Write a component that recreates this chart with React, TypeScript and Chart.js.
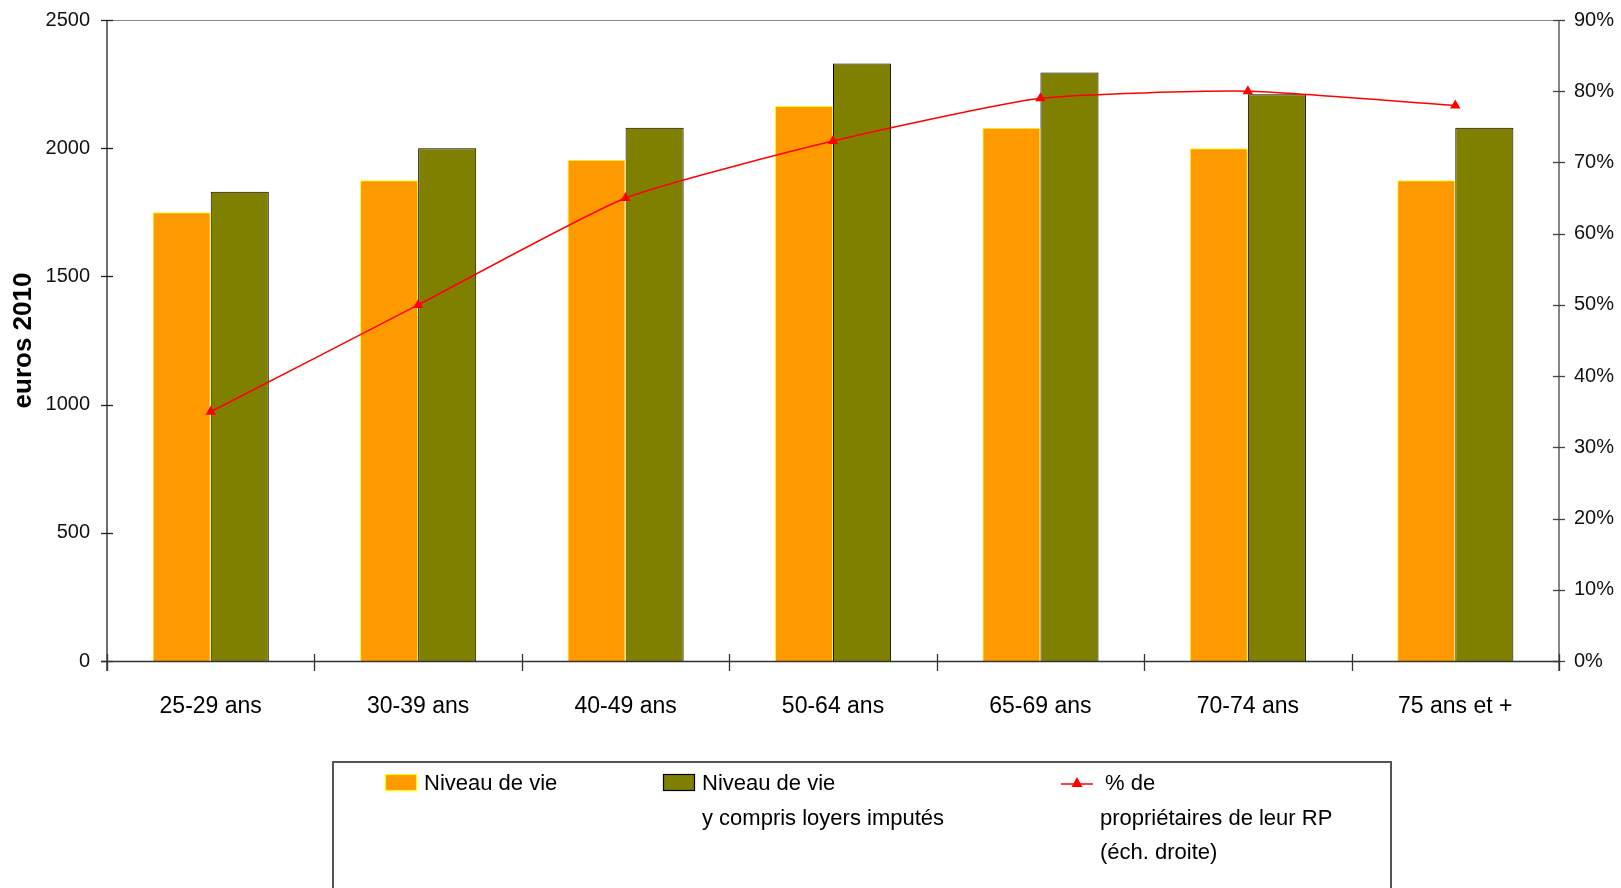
import React, { useEffect, useRef } from "react";
import { Chart, registerables } from "chart.js";

Chart.register(...registerables);

// ---------- Data ----------
const categories = ["25-29 ans", "30-39 ans", "40-49 ans", "50-64 ans", "65-69 ans", "70-74 ans", "75 ans et +"];
const niveauDeVie = [1750, 1875, 1955, 2165, 2080, 2000, 1875];
const niveauDeVieLoyers = [1830, 2000, 2080, 2330, 2295, 2210, 2080];
const pctProprietaires = [35, 50, 65, 73, 79, 80, 78];
const leftAxisTitle = "euros 2010";
const legendNiveau = ["Niveau de vie"];
const legendLoyers = ["Niveau de vie", "y compris loyers imputés"];
const legendPct = ["% de", "propriétaires de leur RP", "(éch. droite)"];

const FONT = "'Liberation Sans', Arial, sans-serif";
const ORANGE = "#FF9900";
const OLIVE = "#808000";
const RED = "#FF0000";

const decorPlugin = {
  id: "decor",
  afterDraw(chart: any) {
    const ctx = chart.ctx as CanvasRenderingContext2D;
    const ca = chart.chartArea;
    const x = chart.scales.x;
    const y = chart.scales.y;
    const y1 = chart.scales.y1;
    ctx.save();
    // top border
    ctx.strokeStyle = "#8a8a8a";
    ctx.lineWidth = 1;
    ctx.beginPath();
    ctx.moveTo(ca.left, ca.top + 0.5);
    ctx.lineTo(ca.right, ca.top + 0.5);
    ctx.stroke();
    // left axis
    ctx.strokeStyle = "#222";
    ctx.lineWidth = 1.3;
    ctx.beginPath();
    ctx.moveTo(ca.left, ca.top);
    ctx.lineTo(ca.left, ca.bottom + 10);
    ctx.stroke();
    y.ticks.forEach((t: any) => {
      const py = Math.round(y.getPixelForValue(t.value)) + 0.5;
      ctx.beginPath();
      ctx.moveTo(ca.left - 6, py);
      ctx.lineTo(ca.left + 6, py);
      ctx.stroke();
    });
    // right axis
    ctx.strokeStyle = "#444";
    ctx.beginPath();
    ctx.moveTo(ca.right, ca.top);
    ctx.lineTo(ca.right, ca.bottom + 10);
    ctx.stroke();
    y1.ticks.forEach((t: any) => {
      const py = Math.round(y1.getPixelForValue(t.value)) + 0.5;
      ctx.beginPath();
      ctx.moveTo(ca.right - 6, py);
      ctx.lineTo(ca.right + 6, py);
      ctx.stroke();
    });
    // bottom axis
    ctx.strokeStyle = "#333";
    ctx.beginPath();
    ctx.moveTo(ca.left - 6, ca.bottom + 0.5);
    ctx.lineTo(ca.right, ca.bottom + 0.5);
    ctx.stroke();
    for (let i = 0; i <= categories.length; i++) {
      const px = Math.round(x.getPixelForValue(i - 0.5)) + 0.5;
      ctx.beginPath();
      ctx.moveTo(px, ca.bottom - 7);
      ctx.lineTo(px, ca.bottom + 10);
      ctx.stroke();
    }

    // ---------- legend ----------
    const lx0 = 333, ly0 = 762, lx1 = 1391;
    ctx.strokeStyle = "#555";
    ctx.lineWidth = 2;
    ctx.beginPath();
    ctx.moveTo(lx0, 900);
    ctx.lineTo(lx0, ly0);
    ctx.lineTo(lx1, ly0);
    ctx.lineTo(lx1, 900);
    ctx.stroke();

    ctx.font = `22px ${FONT}`;
    ctx.fillStyle = "#000";
    ctx.textBaseline = "middle";
    ctx.textAlign = "left";
    const lineH = 34.5;
    const firstY = 784;

    // item 1
    ctx.fillStyle = ORANGE;
    ctx.fillRect(385, 774, 32, 17);
    ctx.strokeStyle = "#FFFF00";
    ctx.lineWidth = 1.2;
    ctx.strokeRect(385.5, 774.5, 31, 16);
    ctx.fillStyle = "#000";
    legendNiveau.forEach((s, i) => ctx.fillText(s, 424, firstY + i * lineH));

    // item 2
    ctx.fillStyle = OLIVE;
    ctx.fillRect(663, 774, 32, 17);
    ctx.strokeStyle = "#000";
    ctx.lineWidth = 1.2;
    ctx.strokeRect(663.5, 774.5, 31, 16);
    ctx.fillStyle = "#000";
    legendLoyers.forEach((s, i) => ctx.fillText(s, 702, firstY + i * lineH));

    // item 3
    ctx.strokeStyle = RED;
    ctx.lineWidth = 1.5;
    ctx.beginPath();
    ctx.moveTo(1061, 784);
    ctx.lineTo(1093, 784);
    ctx.stroke();
    ctx.fillStyle = RED;
    ctx.beginPath();
    ctx.moveTo(1077, 777);
    ctx.lineTo(1082.5, 787);
    ctx.lineTo(1071.5, 787);
    ctx.closePath();
    ctx.fill();
    ctx.fillStyle = "#000";
    legendPct.forEach((s, i) => ctx.fillText(s, i === 0 ? 1105 : 1100, firstY + i * lineH));

    ctx.restore();
  },
};

export default function App() {
  const ref = useRef<HTMLCanvasElement | null>(null);

  useEffect(() => {
    if (!ref.current) return;
    const chart = new Chart(ref.current, {
      type: "bar",
      data: {
        labels: categories,
        datasets: [
          {
            type: "line",
            label: legendPct.join(" "),
            data: pctProprietaires,
            yAxisID: "y1",
            borderColor: RED,
            backgroundColor: RED,
            borderWidth: 1.5,
            pointStyle: "triangle",
            pointRadius: 6,
            pointBorderWidth: 0,
            pointBackgroundColor: RED,
            tension: 0.18,
            order: 0,
          } as any,
          {
            type: "bar",
            label: legendNiveau.join(" "),
            data: niveauDeVie,
            yAxisID: "y",
            backgroundColor: ORANGE,
            borderColor: "#FFFF00",
            borderWidth: 1,
            categoryPercentage: 0.56,
            barPercentage: 1,
            order: 1,
          },
          {
            type: "bar",
            label: legendLoyers.join(" "),
            data: niveauDeVieLoyers,
            yAxisID: "y",
            backgroundColor: OLIVE,
            borderColor: "#000",
            borderWidth: 1,
            categoryPercentage: 0.56,
            barPercentage: 1,
            order: 2,
          },
        ],
      },
      options: {
        responsive: false,
        animation: false,
        layout: { padding: { top: 20, left: 0, right: 0, bottom: 0 } },
        plugins: {
          legend: { display: false },
          tooltip: { enabled: false },
        },
        scales: {
          x: {
            grid: { display: false, drawTicks: false },
            border: { display: false },
            ticks: {
              color: "#000",
              font: { family: FONT, size: 23 },
              padding: 32,
              maxRotation: 0,
            },
            afterFit: (s: any) => {
              s.height = 227;
              s.paddingLeft = 0;
              s.paddingRight = 0;
            },
          },
          y: {
            position: "left",
            min: 0,
            max: 2500,
            grid: { display: false, drawTicks: false },
            border: { display: false },
            ticks: {
              stepSize: 500,
              color: "#111",
              font: { family: FONT, size: 20 },
              padding: 17,
              callback: (v: any) => String(v),
            },
            title: {
              display: true,
              text: leftAxisTitle,
              color: "#000",
              font: { family: FONT, size: 26, weight: "bold" },
              padding: { top: 8, bottom: 0 },
            },
            afterFit: (s: any) => {
              s.width = 107;
              s.paddingTop = 0;
              s.paddingBottom = 0;
            },
          },
          y1: {
            position: "right",
            min: 0,
            max: 90,
            grid: { display: false, drawTicks: false },
            border: { display: false },
            ticks: {
              stepSize: 10,
              color: "#111",
              font: { family: FONT, size: 20 },
              padding: 15,
              callback: (v: any) => `${v}%`,
            },
            afterFit: (s: any) => {
              s.width = 62;
              s.paddingTop = 0;
              s.paddingBottom = 0;
            },
          },
        },
      },
      plugins: [decorPlugin],
    });
    return () => chart.destroy();
  }, []);

  return (
    <div style={{ position: "absolute", left: 0, top: 0, width: 1621, height: 888, background: "#fff" }}>
      <canvas ref={ref} width={1621} height={888} style={{ width: 1621, height: 888, display: "block" }} />
    </div>
  );
}
